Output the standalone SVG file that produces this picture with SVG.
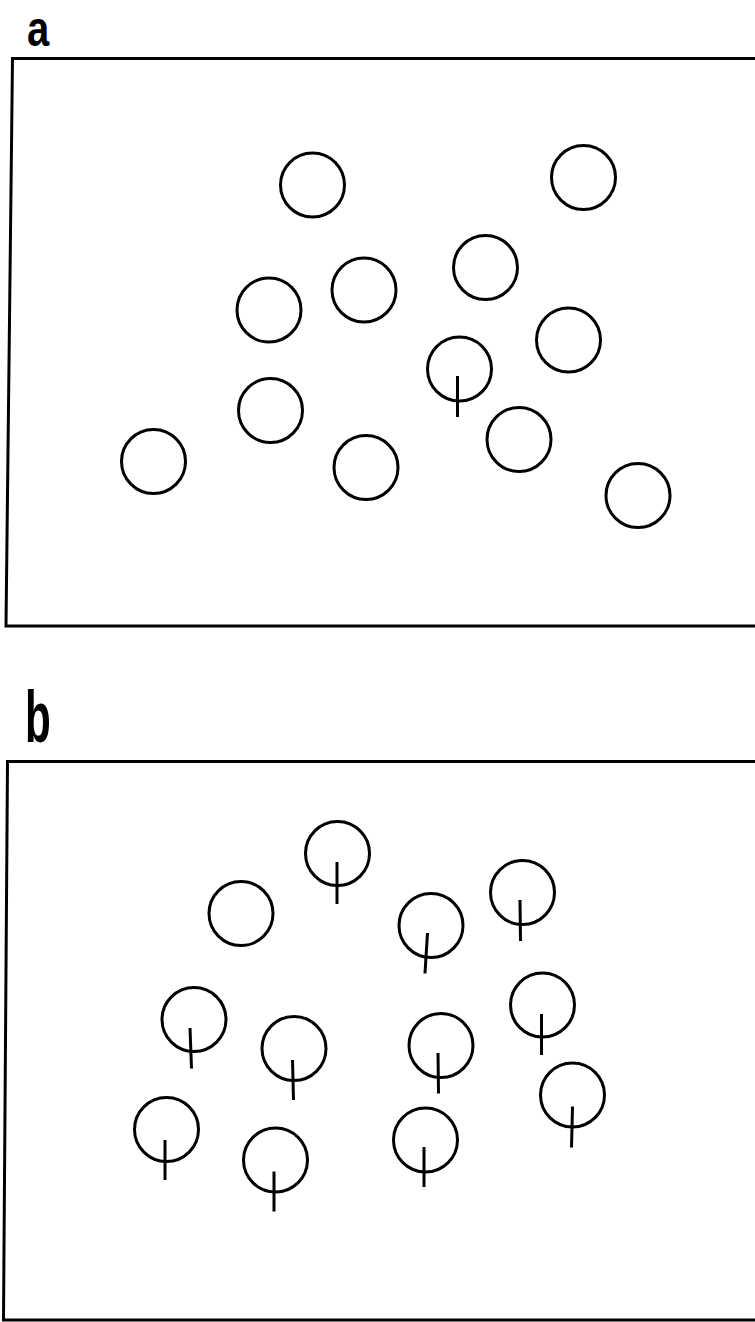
<svg xmlns="http://www.w3.org/2000/svg" width="755" height="1322" viewBox="0 0 755 1322">
<style>
.frame{fill:none;stroke:#000;stroke-width:3;stroke-linejoin:miter}
.c{fill:none;stroke:#000;stroke-width:3}
.t{stroke:#000;stroke-width:3;stroke-linecap:butt}
.lbl{font-family:"Liberation Sans",Arial,sans-serif;font-weight:bold;fill:#000}
</style>
<rect width="755" height="1322" fill="#fff"/>
<g id="panel-a">
  <text class="lbl" font-size="50" transform="translate(27,46) scale(0.8,1)">a</text>
  <polyline class="frame" points="755,58.5 12.5,58.5 6,626 755,626"/>
  <g id="a-circles">
    <circle class="c" cx="312.5" cy="185" r="32"/>
    <circle class="c" cx="583.5" cy="177.5" r="32"/>
    <circle class="c" cx="485.5" cy="267.5" r="32"/>
    <circle class="c" cx="364" cy="290" r="32"/>
    <circle class="c" cx="269" cy="310" r="32"/>
    <circle class="c" cx="568.5" cy="340" r="32"/>
    <g id="a-tick"><circle class="c" cx="459.5" cy="369" r="32"/><line class="t" x1="457.5" y1="376" x2="457.5" y2="417"/></g>
    <circle class="c" cx="270.5" cy="410.5" r="32"/>
    <circle class="c" cx="519" cy="439.5" r="32"/>
    <circle class="c" cx="153.5" cy="461.5" r="32"/>
    <circle class="c" cx="366" cy="467.5" r="32"/>
    <circle class="c" cx="638" cy="495.5" r="32"/>
  </g>
</g>
<g id="panel-b">
  <text class="lbl" font-size="62" transform="translate(25,742) scale(0.68,1.16)">b</text>
  <polyline class="frame" points="755,761.5 7.5,761.5 3.5,1320 755,1320"/>
  <g id="b-circles">
    <circle class="c" cx="337.5" cy="853.5" r="32"/><line class="t" x1="337" y1="862" x2="337" y2="904"/>
    <circle class="c" cx="241" cy="913.5" r="32"/>
    <circle class="c" cx="522.5" cy="892.5" r="32"/><line class="t" x1="520" y1="900" x2="520.5" y2="941"/>
    <circle class="c" cx="431" cy="925.5" r="32"/><line class="t" x1="427.5" y1="933" x2="425" y2="973.5"/>
    <circle class="c" cx="194" cy="1019.5" r="32"/><line class="t" x1="190" y1="1028" x2="191.5" y2="1068.5"/>
    <circle class="c" cx="542.5" cy="1005" r="32"/><line class="t" x1="541.5" y1="1014" x2="541.5" y2="1055"/>
    <circle class="c" cx="441" cy="1045.5" r="32"/><line class="t" x1="438" y1="1053" x2="438.5" y2="1093.5"/>
    <circle class="c" cx="294" cy="1048.5" r="32"/><line class="t" x1="292.5" y1="1060" x2="293.5" y2="1100"/>
    <circle class="c" cx="572.5" cy="1095" r="32"/><line class="t" x1="572.5" y1="1106.5" x2="571.5" y2="1147.5"/>
    <circle class="c" cx="166.5" cy="1129.5" r="32"/><line class="t" x1="165" y1="1140" x2="165" y2="1180"/>
    <circle class="c" cx="425.5" cy="1140" r="32"/><line class="t" x1="424" y1="1147" x2="424" y2="1187"/>
    <circle class="c" cx="275.5" cy="1160" r="32"/><line class="t" x1="274" y1="1171.5" x2="274" y2="1211.5"/>
  </g>
</g>
</svg>
